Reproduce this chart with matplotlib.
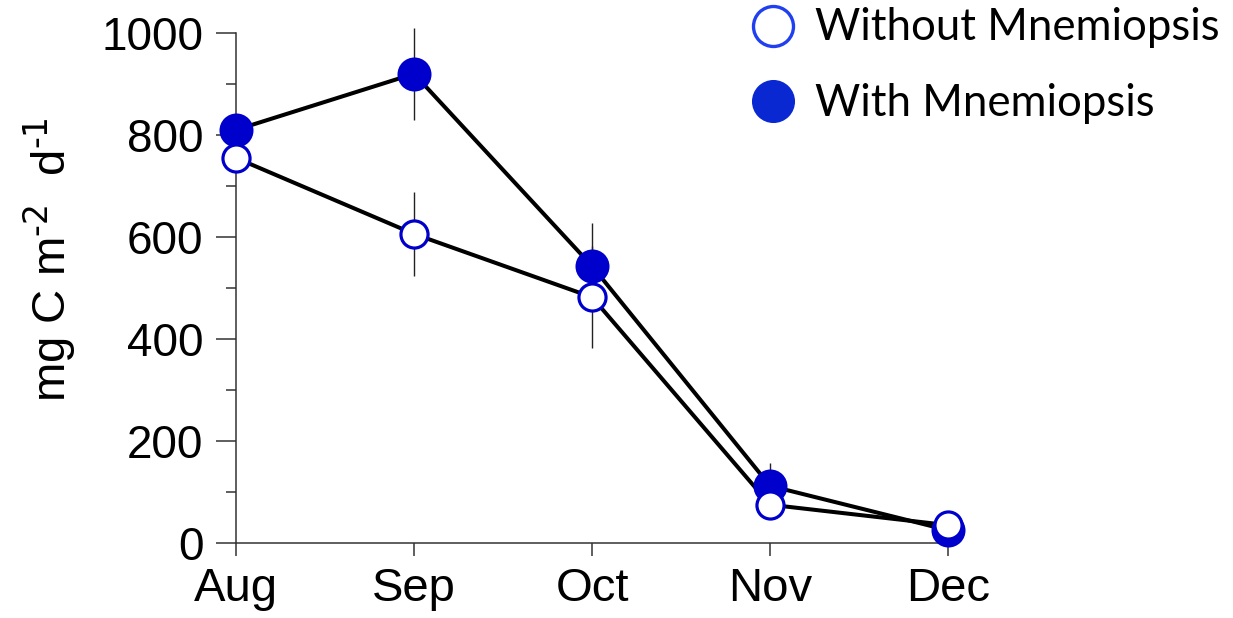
import numpy as np
import matplotlib.pyplot as plt
from matplotlib.lines import Line2D
from matplotlib.ticker import MultipleLocator

# monthly values, mg C m-2 d-1
MONTHS = ["Aug", "Sep", "Oct", "Nov", "Dec"]
WITH_MNE = [810, 920, 543, 112, 25]
WITH_ERR = [0, 90, 85, 45, 0]
WITHOUT_MNE = [755, 606, 482, 75, 35]
WITHOUT_ERR = [0, 82, 100, 0, 0]
LEGEND_LABELS = ["Without Mnemiopsis", "With Mnemiopsis"]

BLUE = "#0000cc"
AXIS_FONT = "Liberation Sans"
LEGEND_FONT = "Lato"

fig = plt.figure(figsize=(12.33, 6.18), dpi=100)
ax = fig.add_axes([0.1914, 0.1214, 0.5775, 0.8252])
x = np.arange(len(MONTHS))

# error bars first, thin and without caps
ax.errorbar(x, WITH_MNE, yerr=WITH_ERR, fmt="none", ecolor="#222222",
            elinewidth=1.0, capsize=0, zorder=1, clip_on=False)
ax.errorbar(x, WITHOUT_MNE, yerr=WITHOUT_ERR, fmt="none", ecolor="#222222",
            elinewidth=1.0, capsize=0, zorder=1, clip_on=False)

# connecting lines
ax.plot(x, WITH_MNE, color="black", lw=2.9, zorder=2, clip_on=False)
ax.plot(x, WITHOUT_MNE, color="black", lw=2.9, zorder=2, clip_on=False)

# markers: filled below, open on top
ax.plot(x, WITH_MNE, "o", ms=24.5, mfc=BLUE, mec=BLUE, mew=0,
        zorder=3, clip_on=False)
ax.plot(x, WITHOUT_MNE, "o", ms=19.5, mfc="white", mec=BLUE, mew=2.3,
        zorder=4, clip_on=False)

ax.set_xlim(0, 4)
ax.set_ylim(0, 1000)
ax.set_xticks(x)
ax.set_xticklabels(MONTHS)
ax.yaxis.set_major_locator(MultipleLocator(200))
ax.yaxis.set_minor_locator(MultipleLocator(100))

for side in ["top", "right"]:
    ax.spines[side].set_visible(False)
for side in ["left", "bottom"]:
    ax.spines[side].set_linewidth(1.1)
    ax.spines[side].set_color("#333333")

ax.tick_params(axis="y", which="major", direction="out", length=14.5,
               width=1.1, color="#333333", pad=9)
ax.tick_params(axis="y", which="minor", direction="out", length=7.5,
               width=1.1, color="#333333")
ax.tick_params(axis="x", which="major", direction="out", length=9,
               width=1.1, color="#333333", pad=8)
for lab in ax.get_yticklabels():
    lab.set_fontfamily(AXIS_FONT)
    lab.set_fontsize(33)
for lab in ax.get_xticklabels():
    lab.set_fontfamily(AXIS_FONT)
    lab.set_fontsize(34)

ax.set_ylabel(r"mg C m$^{\text{-2}}$  d$^{\text{-1}}$",
              fontfamily=AXIS_FONT, fontsize=34)
ax.yaxis.set_label_coords(-0.222, 0.555)

# legend keys and labels, top right of the figure
key_x = 0.627
text_x = 0.661
key_y = [0.958, 0.837]
text_y = [0.935, 0.813]
keys = [
    dict(ms=28.8, mfc="white", mec="#1f3ff0", mew=2.4),
    dict(ms=31, mfc="#0a28d2", mec="#0a28d2", mew=0),
]
for label, ky, ty, style in zip(LEGEND_LABELS, key_y, text_y, keys):
    fig.add_artist(Line2D([key_x], [ky], ls="none", marker="o",
                          transform=fig.transFigure, **style))
    fig.text(text_x, ty, label, fontfamily=LEGEND_FONT, fontsize=31.5,
             va="baseline", ha="left")

fig.savefig("out.png", dpi=100)
